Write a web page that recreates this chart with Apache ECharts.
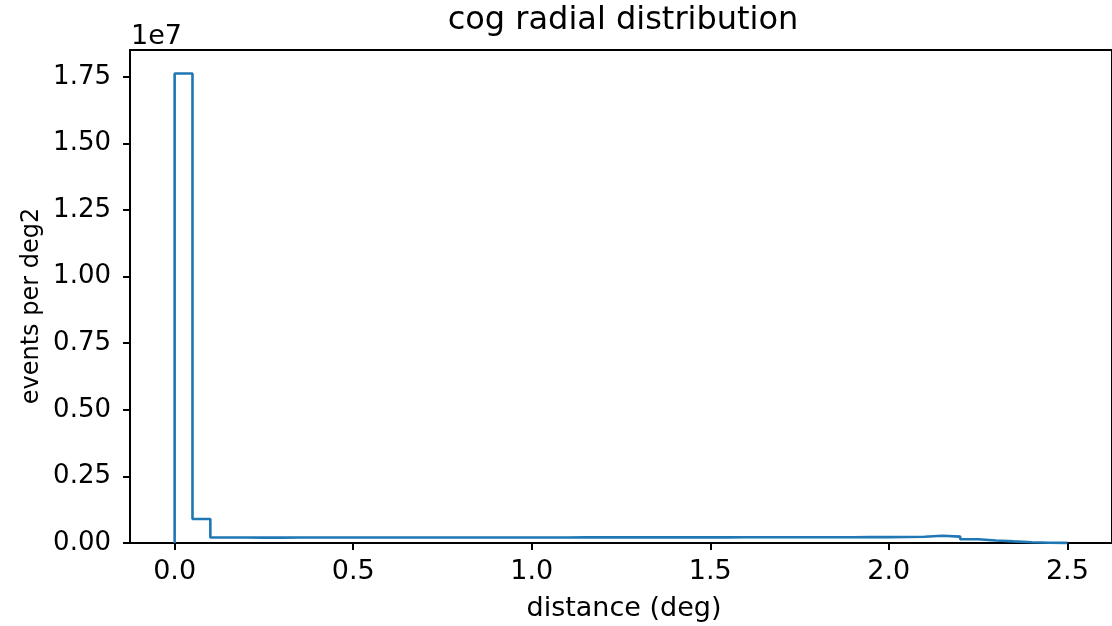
<!DOCTYPE html>
<html>
<head>
<meta charset="utf-8">
<script src="https://cdn.jsdelivr.net/npm/echarts@6/dist/echarts.min.js"></script>
<style>html,body{margin:0;padding:0;background:#fff}#c{width:1112px;height:626px}</style>
</head>
<body>
<div id="c"></div>
<script>
// ---- data ----
const chartTitle = 'cog radial distribution';
const xLabel = 'distance (deg)';
const yLabel = 'events per deg2';
const binStart = 0.0;
const binWidth = 0.05;
// events per deg2 for each of the 50 bins (0.00-0.05, 0.05-0.10, ... 2.45-2.50)
const binValues = [
  17630000, 900000,                                                  // 0.00 - 0.10
  205000, 204000, 203000, 203000, 204000, 204000, 205000, 205000,    // 0.10 - 0.50
  206000, 206000, 206000, 207000, 207000, 207000, 208000, 208000,    // 0.50 - 0.90
  208000, 209000, 209000, 209000, 210000, 210000, 211000, 211000,    // 0.90 - 1.30
  211000, 212000, 212000, 213000, 213000, 214000, 214000, 215000,    // 1.30 - 1.70
  216000, 216000, 217000, 218000, 219000, 220000,                    // 1.70 - 2.00
  225000, 237000, 272000, 240000, 139000, 92000, 60000, 30000, 12000, 4000  // 2.00 - 2.50
];
const xTicks = [0.0, 0.5, 1.0, 1.5, 2.0, 2.5];
const yTicks = [0, 2500000, 5000000, 7500000, 10000000, 12500000, 15000000, 17500000];
const yScaleText = '1e7';
const yScale = 1e7;

// ---- build step outline (matplotlib histtype="step") ----
const pts = [[binStart, 0]];
binValues.forEach((v, i) => pts.push([binStart + i * binWidth, v]));
pts.push([binStart + binValues.length * binWidth, 0]);

const FONT = 'DejaVu Sans';
const chart = echarts.init(document.getElementById('c'), null, {renderer: 'canvas'});
chart.setOption({
  animation: false,
  backgroundColor: '#ffffff',
  grid: {left: 130, top: 50, right: -2.5, bottom: 83, show: true, borderColor: '#000', borderWidth: 2, backgroundColor: 'transparent'},
  xAxis: {
    type: 'value', min: -0.125, max: 2.625,
    axisLine: {show: true, onZero: false, lineStyle: {color: '#000', width: 2}},
    axisTick: {show: true, length: 7, lineStyle: {color: '#000', width: 2}, customValues: xTicks},
    axisLabel: {color: '#000', fontFamily: FONT, fontSize: 27, margin: 15,
      customValues: xTicks, formatter: v => v.toFixed(1)},
    splitLine: {show: false}
  },
  yAxis: {
    type: 'value', min: 0, max: 18510000,
    axisLine: {show: true, onZero: false, lineStyle: {color: '#000', width: 2}},
    axisTick: {show: true, length: 7, lineStyle: {color: '#000', width: 2}, customValues: yTicks},
    axisLabel: {color: '#000', fontFamily: FONT, fontSize: 26, margin: 19,
      customValues: yTicks, formatter: v => (v / yScale).toFixed(2)},
    splitLine: {show: false}
  },
  graphic: [
    {type: 'text', x: 623, y: 5, style: {text: chartTitle, fontFamily: FONT, fontSize: 32, fill: '#000', align: 'center', verticalAlign: 'top'}},
    {type: 'text', x: 131, y: 23, style: {text: yScaleText, fontFamily: FONT, fontSize: 27, fill: '#000', verticalAlign: 'top'}},
    {type: 'text', x: 624, y: 595, style: {text: xLabel, fontFamily: FONT, fontSize: 27, fill: '#000', align: 'center', verticalAlign: 'top'}},
    {type: 'text', x: 20, y: 306, rotation: Math.PI / 2, style: {text: yLabel, fontFamily: FONT, fontSize: 24, fill: '#000', align: 'center', verticalAlign: 'top'}}
  ],
  series: [{
    type: 'line', step: 'end', data: pts, showSymbol: false, clip: false,
    lineStyle: {color: '#1f77b4', width: 2.6}
  }]
});
</script>
</body>
</html>
